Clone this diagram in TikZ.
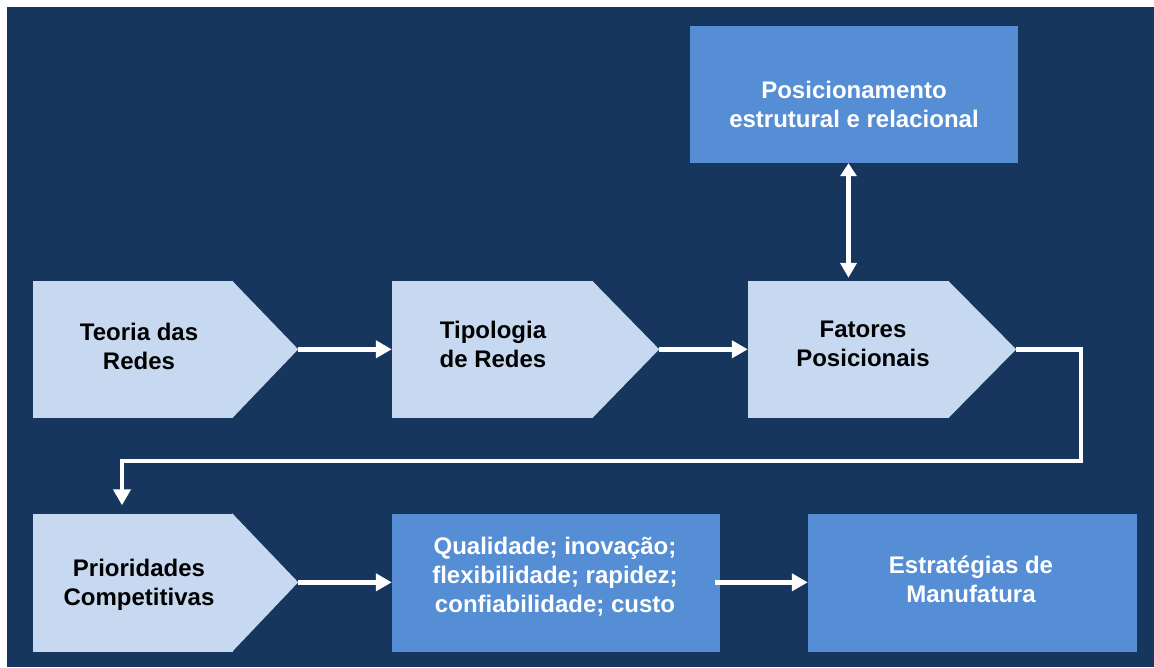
\documentclass[tikz,border=0pt]{standalone}
\usepackage{fontspec}
\setmainfont{Liberation Sans}
\usetikzlibrary{arrows.meta}
\definecolor{bgnavy}{RGB}{23,54,93}
\definecolor{lightblk}{RGB}{198,217,241}
\definecolor{midblue}{RGB}{85,142,213}
\begin{document}
\begin{tikzpicture}[x=1pt,y=-1pt,
  txt/.style={inner sep=0pt, align=center, font=\fontsize{24}{29}\selectfont\bfseries},
  darktxt/.style={txt, text=black},
  lighttxt/.style={txt, text=white},
  pentbody/.style={rectangle, fill=lightblk, draw=none, inner sep=0pt},
  bluebox/.style={rectangle, fill=midblue, draw=none, inner sep=0pt},
  conn/.style={draw=white, line width=4.5pt, -{Triangle[length=16pt,width=17pt]}},
  dconn/.style={draw=white, line width=4.5pt, {Triangle[length=13pt,width=16pt]}-{Triangle[length=15pt,width=16pt]}}
]
\useasboundingbox (0,0) rectangle (1154,667);
\fill[white] (0,0) rectangle (1154,667);
\fill[bgnavy] (7,7) rectangle (1154,667);

% top row pentagons
\node[pentbody, minimum width=200pt, minimum height=137pt] (teoria) at (133,349.5) {};
\fill[lightblk] ([xshift=-1pt]teoria.north east) -- ++(66,68.5) coordinate (teoriatip) -- ([xshift=-1pt]teoria.south east) -- cycle;
\node[darktxt] (teoriatxt) at (139,346.5) {Teoria das\\Redes};

\node[pentbody, minimum width=201pt, minimum height=137pt] (tipologia) at (492.5,349.5) {};
\fill[lightblk] ([xshift=-1pt]tipologia.north east) -- ++(67,68.5) coordinate (tipologiatip) -- ([xshift=-1pt]tipologia.south east) -- cycle;
\node[darktxt] (tipologiatxt) at (493,344) {Tipologia\\de Redes};

\node[pentbody, minimum width=201pt, minimum height=137pt] (fatores) at (848.5,349.5) {};
\fill[lightblk] ([xshift=-1pt]fatores.north east) -- ++(68,68.5) coordinate (fatorestip) -- ([xshift=-1pt]fatores.south east) -- cycle;
\node[darktxt] (fatorestxt) at (863,344) {Fatores\\Posicionais};

% top box
\node[bluebox, minimum width=328pt, minimum height=137pt] (posic) at (854,94.5) {};
\node[lighttxt] (posictxt) at (854,104.5) {Posicionamento\\estrutural e relacional};

% bottom row
\node[pentbody, minimum width=200pt, minimum height=138pt] (prior) at (133,582.5) {};
\fill[lightblk] ([xshift=-1pt]prior.north east) -- ++(66,69) coordinate (priortip) -- ([xshift=-1pt]prior.south east) -- cycle;
\node[darktxt] (priortxt) at (139,584.5) {Prioridades\\Competitivas};

\node[bluebox, minimum width=328pt, minimum height=138pt] (qual) at (556,583) {};
\node[lighttxt] (qualtxt) at (555,577) {Qualidade; inovação;\\flexibilidade; rapidez;\\confiabilidade; custo};

\node[bluebox, minimum width=329pt, minimum height=138pt] (estr) at (972.5,583) {};
\node[lighttxt] (estrtxt) at (971,579.5) {Estratégias de\\Manufatura};

% connectors
\draw[conn] (teoriatip) -- (tipologia.west |- teoriatip);
\draw[conn] (tipologiatip) -- (fatores.west |- tipologiatip);
\draw[dconn, shorten >=3pt] (fatores.north |- posic.south) -- (fatores.north);
\coordinate (elbowR) at (1081,461);
\coordinate (elbowL) at (122,461);
\draw[conn, shorten >=8pt] (fatorestip) -| (elbowR) -- (elbowL) -- (elbowL |- prior.north);
\draw[conn] (priortip) -- (qual.west |- priortip);
\draw[conn] ([xshift=-5pt]qual.east |- priortip) -- (estr.west |- priortip);
\end{tikzpicture}
\end{document}
